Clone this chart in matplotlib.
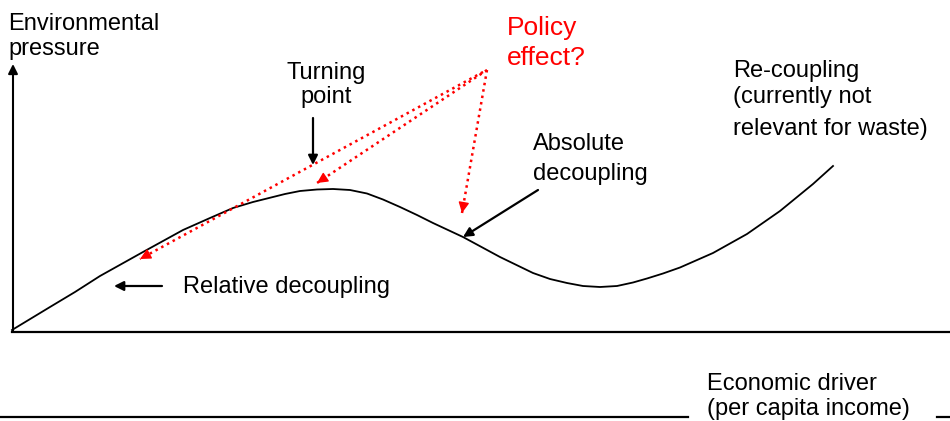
import matplotlib
matplotlib.use("Agg")
import matplotlib.pyplot as plt

plt.rcParams['font.family'] = ['Liberation Sans', 'DejaVu Sans']

# curve (arbitrary units, origin at the axes corner)
income = [0, 38, 63, 88, 131, 171, 198, 221, 241, 261, 273, 288, 305, 321,
          338, 355, 371, 388, 405, 421, 451, 488, 521, 538, 555, 571, 588,
          605, 621, 635, 651, 668, 701, 735, 768, 801, 821]
pressure = [0, 23, 38, 54, 78, 100, 112, 122, 128, 133, 136, 139, 140.5, 141,
            140, 136.5, 130.5, 123, 115, 107, 93, 73, 57, 51, 47, 44, 43,
            44, 47.5, 51.5, 56.5, 62.5, 77, 96, 119, 146, 164]

fig = plt.figure(figsize=(9.5, 4.21), dpi=100)
ax = fig.add_axes([0, 0, 1, 1])
ax.set_xlim(-12, 938)
ax.set_ylim(-91, 330)
ax.axis('off')

# curve
ax.plot(income, pressure, color='black', lw=1.3, solid_joinstyle='round')

# axes of the diagram
ax.annotate('', xy=(1, 266), xytext=(1, -2),
            arrowprops=dict(arrowstyle='-|>', color='black', lw=1.5,
                            mutation_scale=14, shrinkA=0, shrinkB=0))
ax.plot([0, 938], [-2, -2], color='black', lw=1.6)
ax.plot([-12, 676], [-87, -87], color='black', lw=1.6)
ax.plot([925, 938], [-87, -87], color='black', lw=1.6)


def lines(x, rows, color='black', size=17, ha='left'):
    for txt, base in rows:
        ax.text(x, 330 - base, txt, color=color, fontsize=size, ha=ha,
                va='baseline')


lines(-4, [('Environmental', 30), ('pressure', 55)])
lines(314, [('Turning', 79), ('point', 103)], ha='center')
lines(495, [('Policy', 35), ('effect?', 65)], color='red', size=19)
lines(521, [('Absolute', 150), ('decoupling', 180)])
lines(721, [('Re-coupling', 77), ('(currently not', 103),
            ('relevant for waste)', 135)])
lines(171, [('Relative decoupling', 293)])
lines(695, [('Economic driver', 390), ('(per capita income)', 415)])

# black arrows
black = dict(arrowstyle='-|>', color='black', lw=1.6, mutation_scale=14,
             shrinkA=0, shrinkB=0)
ax.annotate('', xy=(301, 165), xytext=(301, 212), arrowprops=black)
ax.annotate('', xy=(102, 44), xytext=(150, 44), arrowprops=black)
ax.annotate('', xy=(451, 93), xytext=(526, 140), arrowprops=black)

# red dotted arrows (policy effect)
starts = [(471, 258), (475, 260), (475, 260)]
ends = [(128, 71), (305, 147), (450, 117)]
for (x0, y0), (x1, y1) in zip(starts, ends):
    ax.plot([x0, x1], [y0, y1], color='red', lw=1.8, linestyle=(0, (1, 1.6)))
    dx, dy = x1 - x0, y1 - y0
    n = (dx ** 2 + dy ** 2) ** 0.5
    ax.annotate('', xy=(x1, y1), xytext=(x1 - dx / n * 6, y1 - dy / n * 6),
                arrowprops=dict(arrowstyle='-|>', color='red', lw=1,
                                mutation_scale=16, shrinkA=0, shrinkB=0))

fig.savefig('out.png', dpi=100)
